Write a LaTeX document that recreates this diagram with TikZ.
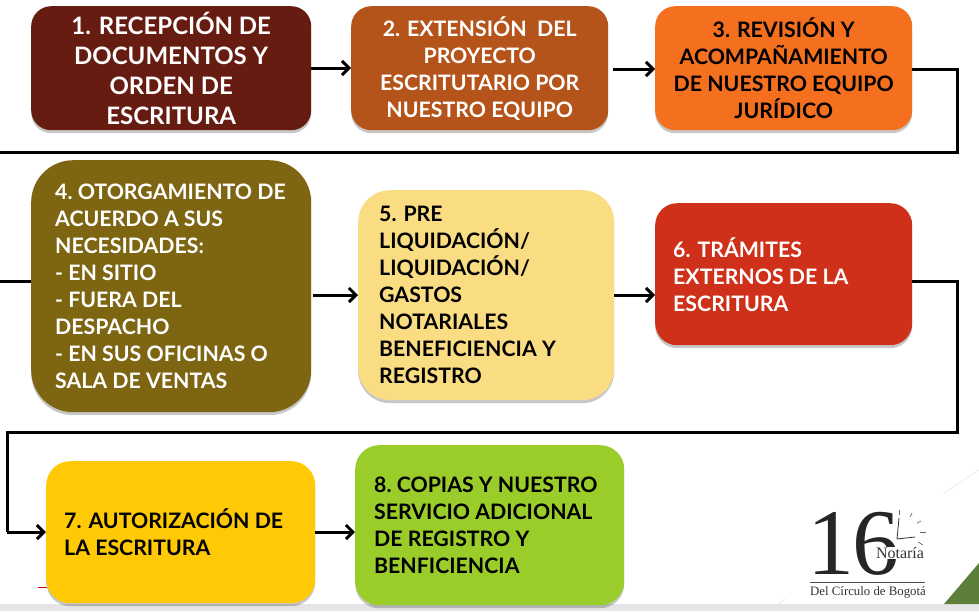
\documentclass[tikz,border=0pt]{standalone}
\usepackage{fontspec}
\setmainfont{Lato}
\usetikzlibrary{arrows.meta,shadows}
\definecolor{cuno}{HTML}{671C12}
\definecolor{cdos}{HTML}{B5541A}
\definecolor{ctres}{HTML}{F4701F}
\definecolor{ccuatro}{HTML}{7D6512}
\definecolor{ccinco}{HTML}{FADD82}
\definecolor{cseis}{HTML}{CF3019}
\definecolor{csiete}{HTML}{FFCA05}
\definecolor{cocho}{HTML}{9ACD2A}
\definecolor{cverde}{HTML}{5E7F3C}
\tikzset{
paso/.style={draw=none,rounded corners=20pt,anchor=north west,inner ysep=0pt,
 drop shadow={shadow xshift=0pt,shadow yshift=-3pt,fill=black,opacity=0.22},font=\bfseries\fontsize{21.3}{27}\selectfont},
centrado/.style={inner xsep=0pt,align=center},
izquierda/.style={inner xsep=#1,align=flush left},
flecha/.style={line width=3pt,-{Straight Barb[length=7pt,width=14pt]}},
linea/.style={line width=3pt,line join=miter},
serifa/.style={font=\fontspec{Liberation Serif}\fontsize{#1}{#1}\selectfont,inner sep=0pt}
}
\begin{document}
\begin{tikzpicture}[x=1pt,y=-1pt]
\useasboundingbox (0,0) rectangle (979,611);
\fill[white] (0,0) rectangle (979,611);
\fill[black!10] (0,604) rectangle (979,611);
\fill[cverde] (944,604) -- (979,563) -- (979,604) -- cycle;
\draw[black!12] (944,493) -- (979,470);
\draw[black!12] (778,604) -- (785,599);
\draw[red!80!black,line width=1pt] (38,587) -- (47,587);
%pasos
\node[paso,centrado,fill=cuno,text=white,minimum width=280pt,minimum height=124pt,font=\bfseries\fontsize{24}{30}\selectfont] (uno) at (31,6) {1. RECEPCIÓN DE\\DOCUMENTOS Y\\ORDEN DE\\ESCRITURA};
\node[paso,centrado,fill=cdos,text=white,minimum width=257pt,minimum height=124pt] (dos) at (351,6) {2. EXTENSIÓN\ \ DEL\\PROYECTO\\ESCRITUTARIO POR\\NUESTRO EQUIPO};
\node[paso,centrado,fill=ctres,text=black,minimum width=257pt,minimum height=124pt] (tres) at (655,6) {3. REVISIÓN Y\\ACOMPAÑAMIENTO\\DE NUESTRO EQUIPO\\JURÍDICO};
\node[paso,izquierda=24pt,fill=ccuatro,text=white,text width=232pt,minimum height=252pt,rounded corners=42pt] (cuatro) at (31,160) {4.~OTORGAMIENTO~DE\\ACUERDO A SUS\\NECESIDADES:\\- EN SITIO\\- FUERA DEL\\DESPACHO\\- EN SUS OFICINAS O\\SALA DE VENTAS};
\node[paso,izquierda=21pt,fill=ccinco,text=black,text width=214pt,minimum height=210pt,rounded corners=32pt] (cinco) at (358,190) {5. PRE\\LIQUIDACIÓN/\\LIQUIDACIÓN/\\GASTOS\\NOTARIALES\\BENEFICIENCIA Y\\REGISTRO};
\node[paso,izquierda=18pt,fill=cseis,text=white,text width=221pt,minimum height=142pt,rounded corners=22pt] (seis) at (655,203) {6. TRÁMITES\\EXTERNOS DE LA\\ESCRITURA};
\node[paso,izquierda=18pt,fill=csiete,text=black,text width=233pt,minimum height=142pt,rounded corners=24pt] (siete) at (46,461) {7. AUTORIZACIÓN DE\\LA ESCRITURA};
\node[paso,izquierda=19pt,fill=cocho,text=black,text width=231pt,minimum height=160pt,rounded corners=24pt] (ocho) at (355,445) {8.~COPIAS~Y~NUESTRO\\SERVICIO ADICIONAL\\DE REGISTRO Y\\BENFICIENCIA};
%conectores
\coordinate (sal1) at (957,69);
\coordinate (sal2) at (957,152);
\coordinate (sal3) at (0,152);
\coordinate (ent1) at (0,281);
\coordinate (sal4) at (957,281);
\coordinate (sal5) at (957,432);
\coordinate (sal6) at (7,432);
\coordinate (sal7) at (7,532);
\coordinate (ini2) at (613,69);
\coordinate (ini4) at (313,295);
\draw[flecha] (uno.east|-0,68) -- (dos.west|-0,68);
\draw[flecha] (ini2) -- (tres.west|-ini2);
\draw[linea] (tres.east|-sal1) -- (sal1) -- (sal2) -- (sal3);
\draw[linea] (ent1) -- (cuatro.west|-ent1);
\draw[flecha] (ini4) -- (cinco.west|-ini4);
\draw[flecha] (cinco.east|-ini4) -- (seis.west|-ini4);
\draw[linea] (seis.east|-sal4) -- (sal4) -- (sal5) -- (sal6) -- (sal7);
\draw[flecha] (sal7) -- (siete.west|-sal7);
\draw[flecha] (siete.east|-sal7) -- (ocho.west|-sal7);
%logo
\node[serifa=94,text=black!85,text height=64pt,text depth=0pt] (dieciseis) at (853.5,542) {1\hspace{-2pt}6};
\node[serifa=16,text=black!80,fill=white] (notaria) at (900,553) {Notaría};
\draw[black!70,line width=1pt] (810,582) -- (925,582);
\node[serifa=12.8,text=black!80] (circulo) at (868,592) {Del Círculo de Bogotá};
\draw[black!80,line width=0.8pt] (897,539) -- (899,518) (897,539) -- (915,537);
\foreach \a/\b/\c/\d in {899/510/899/515,912/513/910/517,921/521/917/523,926/532/920/532,923/545/918/542}
 \draw[black!60,line width=0.7pt] (\a,\b) -- (\c,\d);
\end{tikzpicture}
\end{document}
